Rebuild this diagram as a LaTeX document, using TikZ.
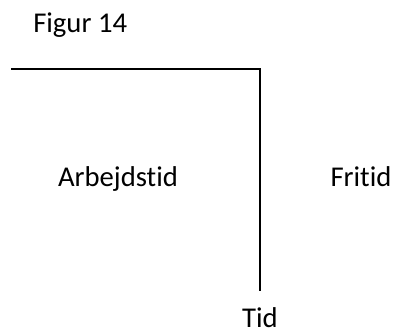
\documentclass[tikz,border=0pt]{standalone}
\usepackage{fontspec}
\setmainfont{Carlito}
\newcommand{\nolig}{\kern0pt}
\begin{document}
\begin{tikzpicture}[x=0.75pt, y=-0.75pt, txt/.style={font=\fontsize{21.5}{24}\selectfont, inner sep=0pt, anchor=base}]
        \useasboundingbox (0,0) rectangle (393,333);
        \def\lw{1.5pt}

        \node[txt, anchor=base west] (fig) at (33,32) {Figur 14};

        \coordinate (start) at (11,69);
        \coordinate (corner) at (260,69);
        \coordinate (end) at (260,291);
        \draw[line width=\lw] (start) -- (corner) -- (end);

        \node[txt] (arb) at (118,186) {Arbejdst\nolig id};
        \node[txt] (fri) at (361,186) {Frit\nolig id};
        \node[txt] (tid) at (260,327) {Tid};

    \end{tikzpicture}
\end{document}
